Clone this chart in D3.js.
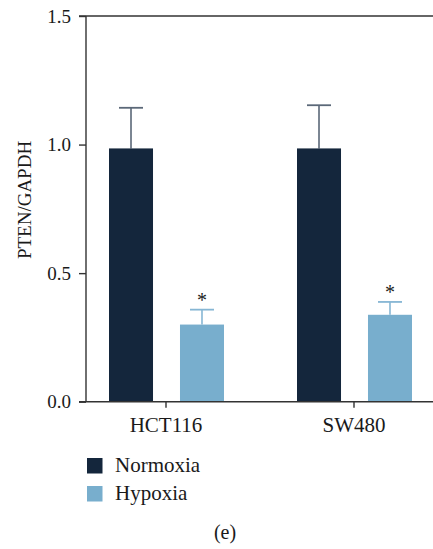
<!DOCTYPE html>
<html>
<head>
<meta charset="utf-8">
<script src="https://cdn.jsdelivr.net/npm/d3@7"></script>
<style>
  body { margin: 0; background: #fff; }
  text { font-family: "Liberation Serif", "DejaVu Serif", serif; fill: #1a1a1a; }
</style>
</head>
<body>
<div id="chart"></div>
<script>
// Data
var groups = ['HCT116', 'SW480'];
var seriesNames = ['Normoxia', 'Hypoxia'];
var normoxia = [0.985, 0.985];
var normoxiaErr = [0.158, 0.168];
var hypoxia = [0.300, 0.338];
var hypoxiaErr = [0.058, 0.050];
var yTicks = [0.0, 0.5, 1.0, 1.5];

var colors = { Normoxia: '#14263c', Hypoxia: '#78aecd' };
var errColors = { Normoxia: '#5b6878', Hypoxia: '#86b6d4' };
var serif = '"Liberation Serif", "DejaVu Serif", serif';

var W = 433, H = 549;
var svg = d3.select('#chart').append('svg')
  .attr('width', W).attr('height', H);

// Scales
var y = d3.scaleLinear().domain([0, 1.5]).range([401.7, 16]);
var x0 = d3.scaleBand().domain(groups).range([72, 448]);
var x1 = d3.scaleBand().domain(seriesNames).range([-57, 58]).paddingInner(0.38);

// build rows for drawing
var rows = [];
groups.forEach(function(g, i) {
  rows.push({ group: g, series: 'Normoxia', value: normoxia[i], err: normoxiaErr[i], star: false });
  rows.push({ group: g, series: 'Hypoxia', value: hypoxia[i], err: hypoxiaErr[i], star: true });
});
function cx(d) {
  return x0(d.group) + x0.bandwidth() / 2 + x1(d.series) + x1.bandwidth() / 2;
}

// Error bars (drawn first so bars cover the stem base)
var eb = svg.append('g');
eb.selectAll('line.stem').data(rows).enter().append('line')
  .attr('x1', cx).attr('x2', cx)
  .attr('y1', function(d) { return y(d.value); })
  .attr('y2', function(d) { return y(d.value + d.err); })
  .style('stroke', function(d) { return errColors[d.series]; })
  .style('stroke-width', 1.6);
eb.selectAll('line.cap').data(rows).enter().append('line')
  .attr('x1', function(d) { return cx(d) - 12; })
  .attr('x2', function(d) { return cx(d) + 12; })
  .attr('y1', function(d) { return y(d.value + d.err); })
  .attr('y2', function(d) { return y(d.value + d.err); })
  .style('stroke', function(d) { return errColors[d.series]; })
  .style('stroke-width', 1.8);

// Bars
svg.append('g').selectAll('rect').data(rows).enter().append('rect')
  .attr('x', function(d) { return x0(d.group) + x0.bandwidth() / 2 + x1(d.series); })
  .attr('width', x1.bandwidth())
  .attr('y', function(d) { return y(d.value); })
  .attr('height', function(d) { return y(0) - y(d.value); })
  .style('fill', function(d) { return colors[d.series]; });

// Significance stars
svg.append('g').selectAll('text').data(rows.filter(function(d) { return d.star; }))
  .enter().append('text')
  .attr('x', cx)
  .attr('y', function(d) { return y(d.value + d.err) - 3; })
  .attr('text-anchor', 'middle')
  .style('font-size', '20px')
  .text('*');

// Axes frame
var axisColor = '#333';
svg.append('line').attr('x1', 86).attr('x2', 86).attr('y1', y(1.5)).attr('y2', y(0))
  .style('stroke', axisColor).style('stroke-width', 1.4);
svg.append('line').attr('x1', 79).attr('x2', W).attr('y1', y(0)).attr('y2', y(0))
  .style('stroke', axisColor).style('stroke-width', 1.4);
svg.append('line').attr('x1', 79).attr('x2', W).attr('y1', y(1.5)).attr('y2', y(1.5))
  .style('stroke', axisColor).style('stroke-width', 1.4);

// y axis
var yAxis = svg.append('g').attr('transform', 'translate(86,0)')
  .call(d3.axisLeft(y).tickValues(yTicks).tickFormat(d3.format('.1f')).tickSize(7).tickPadding(8));
yAxis.attr('font-family', serif);
yAxis.select('.domain').remove();
yAxis.selectAll('line').style('stroke', axisColor).style('stroke-width', 1.4);
yAxis.selectAll('text').style('font-size', '19px').style('fill', '#1a1a1a');

// x axis
var xAxis = svg.append('g').attr('transform', 'translate(0,' + y(0) + ')')
  .call(d3.axisBottom(x0).tickSize(6).tickPadding(9));
xAxis.attr('font-family', serif);
xAxis.select('.domain').remove();
xAxis.selectAll('line').style('stroke', axisColor).style('stroke-width', 1.4);
xAxis.selectAll('text').style('font-size', '21px').style('fill', '#1a1a1a');

// y title
svg.append('text')
  .attr('transform', 'translate(31,200) rotate(-90)')
  .attr('text-anchor', 'middle')
  .style('font-size', '19px')
  .text('PTEN/GAPDH');

// Legend
var legend = svg.append('g').selectAll('g').data(seriesNames).enter().append('g')
  .attr('transform', function(d, i) { return 'translate(87,' + (458 + i * 28) + ')'; });
legend.append('rect').attr('width', 15.5).attr('height', 15.5)
  .style('fill', function(d) { return colors[d]; });
legend.append('text').attr('x', 28).attr('y', 13.5)
  .style('font-size', '21px')
  .text(function(d) { return d; });

// panel label
svg.append('text').attr('x', 225).attr('y', 539)
  .attr('text-anchor', 'middle')
  .style('font-size', '20px')
  .text('(e)');
</script>
</body>
</html>
